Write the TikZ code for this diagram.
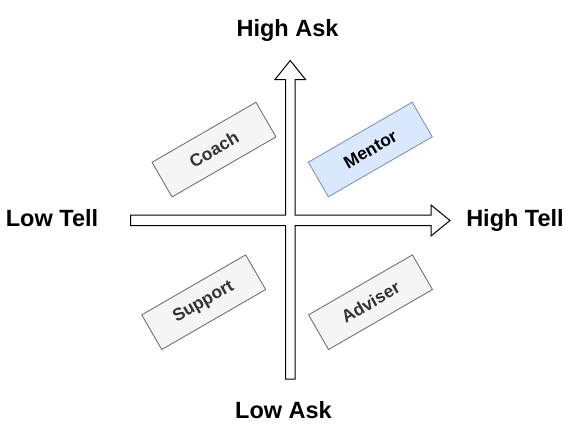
\documentclass[tikz,border=0pt]{standalone}
\usepackage{fontspec}
\setmainfont{Liberation Sans}
\definecolor{grayfill}{HTML}{F5F5F5}
\definecolor{graydraw}{HTML}{666666}
\definecolor{graytext}{HTML}{333333}
\definecolor{bluefill}{HTML}{DAE8FC}
\definecolor{bluedraw}{HTML}{6C8EBF}
\begin{document}
\begin{tikzpicture}[x=1pt,y=-1pt,
  axislabel/.style={font=\fontsize{23.5}{26}\selectfont\bfseries, anchor=base, inner sep=0pt},
  rolebox/.style={rotate=30, minimum width=120pt, minimum height=40pt, inner sep=0pt,
    line width=0.8pt, font=\fontsize{17.5}{20}\selectfont\bfseries},
  graybox/.style={rolebox, fill=grayfill, draw=graydraw, text=graytext},
  bluebox/.style={rolebox, fill=bluefill, draw=bluedraw, text=black}]
\useasboundingbox (0,0) rectangle (581,431);
% cross of block arrows (union outline)
\draw[line width=1pt, fill=white, line join=miter]
  (130.5,215) -- (285.5,215) -- (285.5,79.5) -- (275,79.5) -- (290.25,60.5)
  -- (305.5,79.5) -- (295,79.5) -- (295,215) -- (431,215) -- (431,205)
  -- (450,220.5) -- (431,236) -- (431,225.5) -- (295,225.5) -- (295,379)
  -- (285.5,379) -- (285.5,225.5) -- (130.5,225.5) -- cycle;
% axis labels
\node[axislabel] (highask) at (287.5,36.5) {High Ask};
\node[axislabel] (lowask) at (283.5,418.5) {Low Ask};
\node[axislabel] (lowtell) at (52,226.5) {Low Tell};
\node[axislabel] (hightell) at (515,226.5) {High Tell};
% quadrant boxes
\node[graybox] (coach) at (214,149.6) {Coach};
\node[bluebox] (mentor) at (370.3,149.5) {Mentor};
\node[graybox] (support) at (203.7,302.2) {Support};
\node[graybox] (adviser) at (370.5,302.2) {Adviser};
\end{tikzpicture}
\end{document}
